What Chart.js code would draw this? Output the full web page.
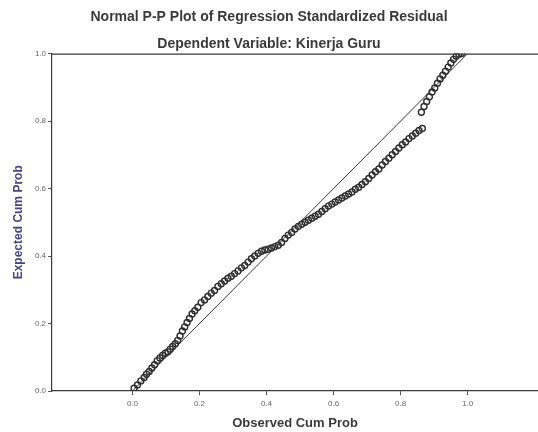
<!DOCTYPE html>
<html>
<head>
<meta charset="utf-8">
<script src="https://cdn.jsdelivr.net/npm/chart.js@4/dist/chart.umd.min.js"></script>
<style>
  html, body { margin: 0; padding: 0; background: #ffffff; }
  #wrap { width: 538px; height: 432px; }
</style>
</head>
<body>
<div id="wrap"><canvas id="c" width="538" height="432"></canvas></div>
<script>
const chartTitle = "Normal P-P Plot of Regression Standardized Residual";
const chartSubtitle = "Dependent Variable: Kinerja Guru";
const xTitle = "Observed Cum Prob";
const yTitle = "Expected Cum Prob";
const xTicks = [0.0, 0.2, 0.4, 0.6, 0.8, 1.0];
const yTicks = [0.0, 0.2, 0.4, 0.6, 0.8, 1.0];

// observed cumulative probability (x) of each residual point
const observed = [
  0.005,0.015,0.025,0.035,0.042,0.050,0.058,0.066,0.074,0.082,
  0.090,0.098,0.106,0.113,0.120,0.128,0.135,0.142,0.149,0.156,
  0.163,0.170,0.178,0.186,0.195,0.205,0.215,0.225,0.235,0.245,
  0.255,0.265,0.275,0.285,0.295,0.305,0.315,0.325,0.335,0.345,
  0.355,0.365,0.375,0.385,0.395,0.405,0.415,0.425,0.435,0.445,
  0.455,0.465,0.475,0.485,0.495,0.505,0.515,0.525,0.535,0.545,
  0.555,0.565,0.575,0.585,0.595,0.605,0.615,0.625,0.635,0.645,
  0.655,0.665,0.675,0.685,0.695,0.705,0.715,0.725,0.735,0.745,
  0.755,0.765,0.775,0.785,0.795,0.805,0.815,0.825,0.835,0.845,
  0.855,0.865,
  0.862,0.870,0.878,0.886,0.894,0.902,0.910,0.918,0.926,0.934,
  0.942,0.950,0.958,0.966,0.974,0.982
];
// expected cumulative probability (y) of each residual point
const expected = [
  0.008,0.018,0.030,0.040,0.050,0.058,0.068,0.078,0.090,0.098,
  0.105,0.112,0.116,0.124,0.132,0.140,0.150,0.163,0.178,0.190,
  0.203,0.215,0.228,0.238,0.248,0.262,0.270,0.280,0.290,0.298,
  0.310,0.318,0.326,0.334,0.340,0.348,0.356,0.365,0.372,0.382,
  0.392,0.400,0.408,0.414,0.418,0.420,0.424,0.428,0.432,0.440,
  0.452,0.462,0.470,0.480,0.488,0.494,0.500,0.506,0.512,0.518,
  0.524,0.532,0.540,0.548,0.554,0.560,0.566,0.572,0.578,0.584,
  0.590,0.598,0.604,0.612,0.620,0.630,0.640,0.650,0.658,0.670,
  0.680,0.690,0.700,0.710,0.720,0.730,0.738,0.748,0.756,0.764,
  0.772,0.778,
  0.826,0.843,0.858,0.872,0.886,0.898,0.912,0.925,0.936,0.948,
  0.960,0.972,0.983,0.992,0.998,1.000
];
// reference diagonal
const diagX = [0, 1];
const diagY = [0, 1];

const FONT = "'Liberation Sans', Arial, sans-serif";

const pts = observed.map((x, i) => ({ x: x, y: expected[i] }));
const diag = diagX.map((x, i) => ({ x: x, y: diagY[i] }));

const framePlugin = {
  id: 'frameTop',
  afterDatasetsDraw(chart) {
    const a = chart.chartArea, ctx = chart.ctx;
    ctx.save();
    ctx.strokeStyle = '#3a3a3a';
    ctx.lineWidth = 1.2;
    ctx.beginPath();
    ctx.moveTo(a.left, a.top + 0.5);
    ctx.lineTo(a.right, a.top + 0.5);
    ctx.stroke();
    ctx.restore();
  }
};

new Chart(document.getElementById('c'), {
  type: 'scatter',
  data: {
    datasets: [
      {
        label: 'Observed',
        data: pts,
        pointStyle: 'circle',
        pointRadius: 3,
        pointBorderWidth: 1.4,
        borderColor: '#2e2e2e',
        backgroundColor: 'rgba(0,0,0,0)',
        showLine: false
      },
      {
        label: 'Diagonal',
        data: diag,
        showLine: true,
        pointRadius: 0,
        borderColor: '#3a3a3a',
        borderWidth: 1,
        fill: false
      }
    ]
  },
  plugins: [framePlugin],
  options: {
    responsive: false,
    animation: false,
    layout: { padding: 0, autoPadding: false },
    plugins: {
      legend: { display: false },
      tooltip: { enabled: false },
      title: {
        display: true,
        text: chartTitle,
        color: '#3a3a3a',
        font: { family: FONT, size: 14, weight: 'bold' },
        padding: { top: 9, bottom: 4 }
      },
      subtitle: {
        display: true,
        text: chartSubtitle,
        color: '#3a3a3a',
        font: { family: FONT, size: 14, weight: 'bold' },
        padding: { top: 6, bottom: 1 }
      }
    },
    scales: {
      x: {
        type: 'linear',
        min: -0.24,
        max: 1.21,
        afterBuildTicks: s => { s.ticks = xTicks.map(v => ({ value: v })); },
        afterFit: s => { s.height = 41; s.paddingLeft = 0; s.paddingRight = 0; },
        ticks: {
          color: '#666666',
          font: { family: FONT, size: 8 },
          padding: 4,
          autoSkip: false,
          maxRotation: 0,
          callback: v => Number(v).toFixed(1)
        },
        grid: { drawOnChartArea: false, drawTicks: true, tickLength: 4, color: '#555555' },
        border: { display: true, color: '#3a3a3a', width: 1.2 },
        title: {
          display: true,
          text: xTitle,
          color: '#3a3a3a',
          font: { family: FONT, size: 13, weight: 'bold' },
          padding: { top: 2, bottom: 1 }
        }
      },
      y: {
        type: 'linear',
        min: 0,
        max: 1,
        afterBuildTicks: s => { s.ticks = yTicks.map(v => ({ value: v })); },
        afterFit: s => { s.width = 52; },
        ticks: {
          color: '#666666',
          font: { family: FONT, size: 8 },
          padding: 2,
          autoSkip: false,
          callback: v => Number(v).toFixed(1)
        },
        grid: { drawOnChartArea: false, drawTicks: true, tickLength: 4, color: '#555555' },
        border: { display: true, color: '#3a3a3a', width: 1.2 },
        title: {
          display: true,
          text: yTitle,
          color: '#46467a',
          font: { family: FONT, size: 12, weight: 'bold' },
          padding: { top: 11, bottom: 2 }
        }
      }
    }
  }
});
</script>
</body>
</html>
